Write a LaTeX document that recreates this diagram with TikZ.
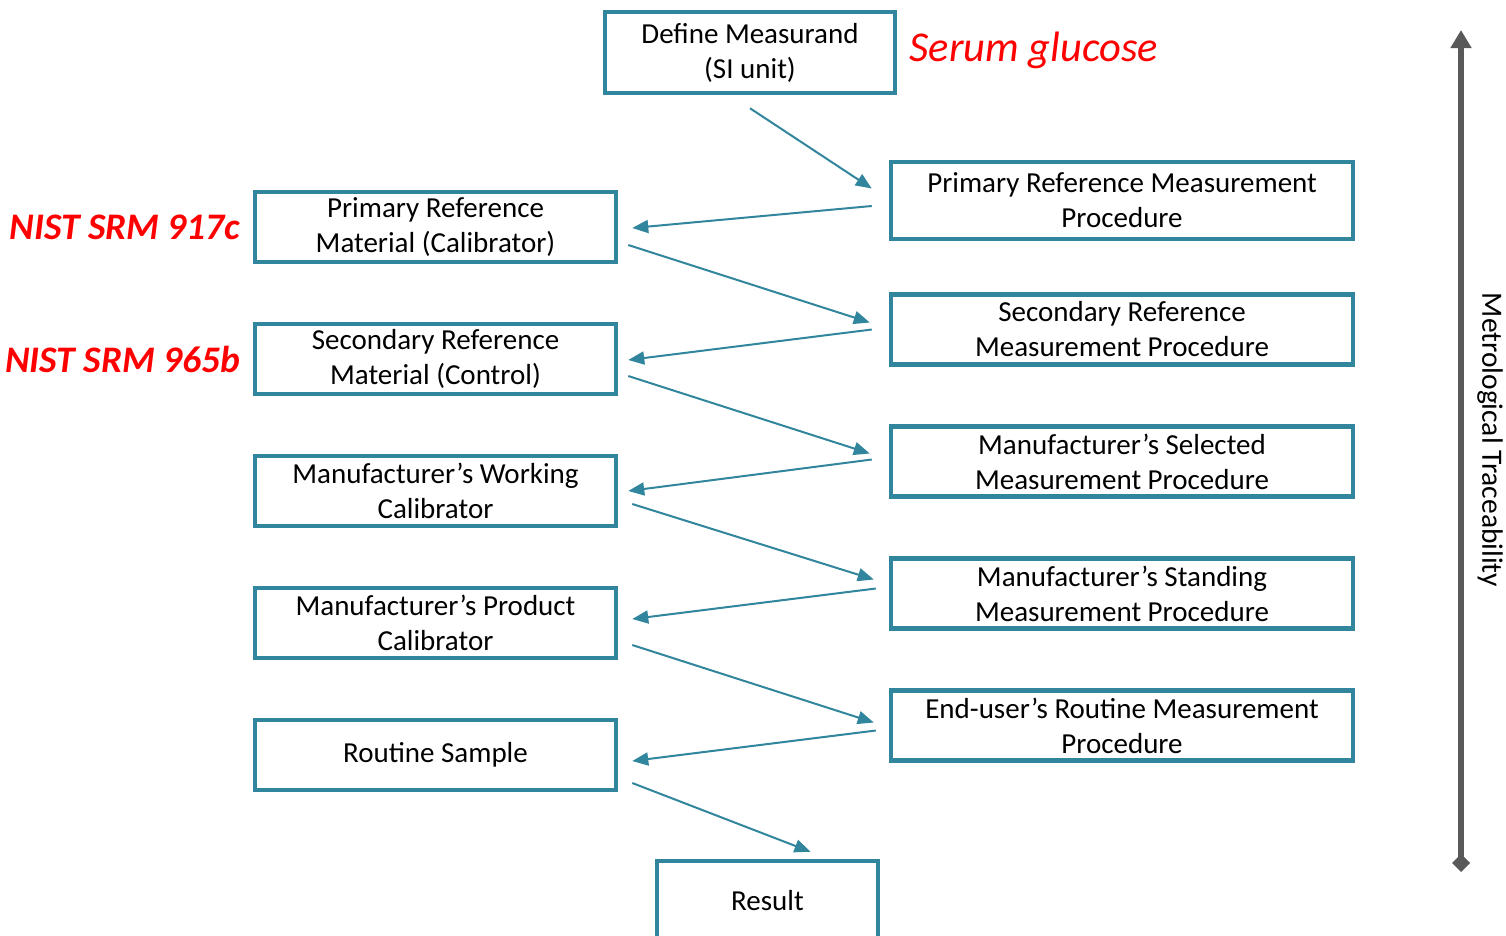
\documentclass[tikz,border=0pt]{standalone}
\usepackage{fontspec}
\setmainfont{Carlito}
\usetikzlibrary{positioning, arrows.meta}
\definecolor{tealbox}{HTML}{31859C}
\definecolor{axisgray}{HTML}{595959}

\begin{document}
\begin{tikzpicture}[
  x=1pt, y=-1pt,
  node distance=57.5pt,
  box/.style={
    rectangle, draw=tealbox, line width=4.5pt, fill=white,
    inner sep=0pt, align=center,
    font=\fontsize{29}{35}\selectfont
  },
  lbox/.style={box, minimum width=361pt, minimum height=70pt},
  rbox/.style={box, minimum width=462pt, minimum height=70pt},
  redlabel/.style={text=red, font=\fontsize{37.5}{42}\selectfont\bfseries\itshape},
  arrow/.style={-{Triangle[length=16pt,width=13pt]}, line width=2pt, draw=tealbox}
]
  \useasboundingbox (0,0) rectangle (1506,935);

  % Top and right column
  \node[box, minimum width=290pt, minimum height=81pt] (def) at (750,52.5) {Define Measurand\\(SI unit)};
  \node[rbox, minimum height=77pt] (prmp) at (1122,200.5) {Primary Reference Measurement\\Procedure};
  \node[rbox, below=51pt of prmp] (srmp) {Secondary Reference\\Measurement Procedure};
  \node[rbox, below=of srmp] (msmp) {Manufacturer’s Selected\\Measurement Procedure};
  \node[rbox, below=of msmp] (mstmp) {Manufacturer’s Standing\\Measurement Procedure};
  \node[rbox, below=of mstmp] (eump) {End-user’s Routine Measurement\\Procedure};

  % Left column
  \node[lbox] (prm) at (435.5,227) {Primary Reference\\Material (Calibrator)};
  \node[lbox, below=of prm] (srm) {Secondary Reference\\Material (Control)};
  \node[lbox, below=of srm] (mwc) {Manufacturer’s Working\\Calibrator};
  \node[lbox, below=of mwc] (mpc) {Manufacturer’s Product\\Calibrator};
  \node[lbox, below=of mpc] (rs) {Routine Sample};
  \node[box, minimum width=221pt, minimum height=80pt] (res) at (767.5,901) {Result};

  % Red labels
  \node[text=red, font=\fontsize{42.5}{46}\selectfont\itshape, anchor=west] (glu) at (906,50) {Serum glucose};
  \node[redlabel, anchor=east] (srm1) at (244,227) {NIST SRM 917c};
  \node[redlabel, anchor=east] (srm2) at (244,359) {NIST SRM 965b};

  % Flow arrows
  \draw[arrow] ([yshift=-13pt]def.south) -- ([xshift=-17pt,yshift=12pt]prmp.west);
  \draw[arrow] ([xshift=-17pt,yshift=-5.5pt]prmp.west) -- ([xshift=14pt,yshift=-1pt]prm.east);
  \draw[arrow] ([xshift=10pt,yshift=-18pt]prm.east) -- ([xshift=-19pt,yshift=7pt]srmp.west);
  \draw[arrow] ([xshift=-17pt]srmp.west) -- ([xshift=10pt,yshift=-1pt]srm.east);
  \draw[arrow] ([xshift=10pt,yshift=-17pt]srm.east) -- ([xshift=-19pt,yshift=8pt]msmp.west);
  \draw[arrow] ([xshift=-17pt,yshift=2pt]msmp.west) -- ([xshift=10pt]mwc.east);
  \draw[arrow] ([xshift=14pt,yshift=-13pt]mwc.east) -- ([xshift=-15pt,yshift=14pt]mstmp.west);
  \draw[arrow] ([xshift=-13pt,yshift=5pt]mstmp.west) -- ([xshift=14pt,yshift=4pt]mpc.east);
  \draw[arrow] ([xshift=14pt,yshift=-22pt]mpc.east) -- ([xshift=-15pt,yshift=3pt]eump.west);
  \draw[arrow] ([xshift=-13pt,yshift=-5pt]eump.west) -- ([xshift=14pt,yshift=-6pt]rs.east);
  \draw[arrow] ([xshift=14pt,yshift=-28pt]rs.east) -- ([xshift=43pt,yshift=7pt]res.north);

  % Traceability axis
  \coordinate (axtop) at (1461,30);
  \coordinate (axbot) at (1461,872);
  \draw[axisgray, line width=6pt, {Diamond[length=18pt,width=18pt]}-{Triangle[length=18pt,width=20pt]}] (axbot) -- (axtop);
  \node[rotate=-90, font=\fontsize{29.5}{33}\selectfont] (trace) at (1490,440) {Metrological Traceability};
\end{tikzpicture}
\end{document}
